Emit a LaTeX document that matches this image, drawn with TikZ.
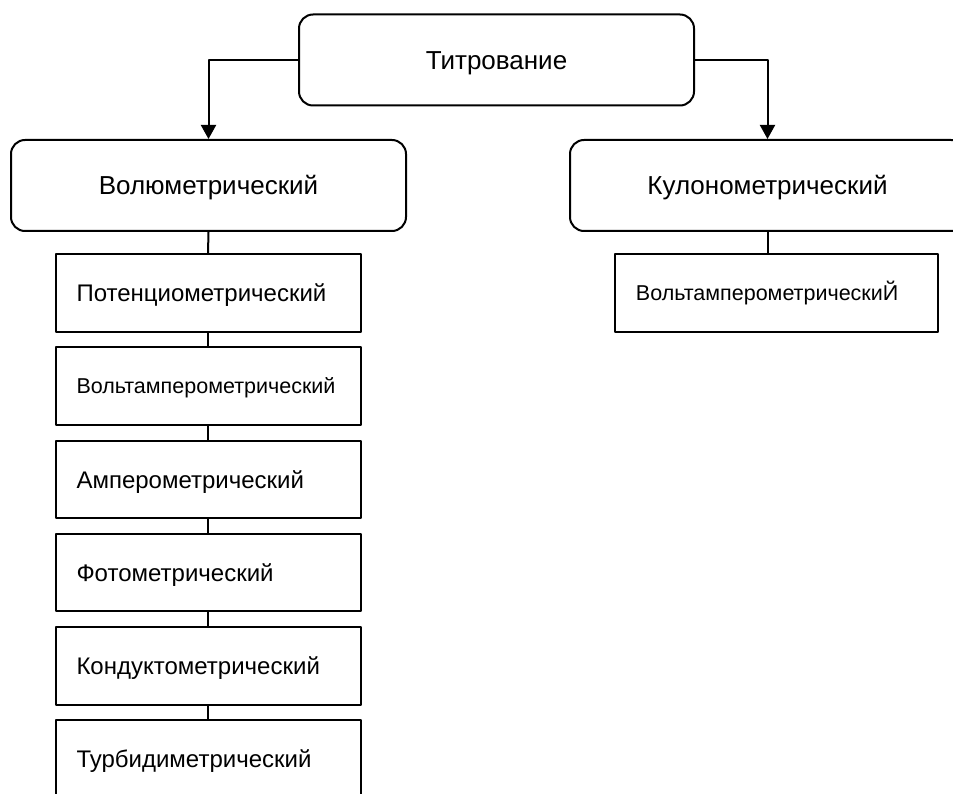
\documentclass[tikz,border=0pt]{standalone}
\usepackage{fontspec}
\setmainfont{Liberation Sans}
\usetikzlibrary{arrows.meta}

\begin{document}
\begin{tikzpicture}[
  x=1pt, y=-1pt,
  line join=round,
  rim/.style={line width=2pt},
  head/.style={draw, rim, rounded corners=14pt, minimum width=395pt,
    minimum height=91pt, text height=18.7pt, text depth=0pt,
    font=\fontsize{26}{30}\selectfont},
  kind/.style={draw, rim, minimum height=77.5pt, inner xsep=21pt,
    text width=263pt, align=left, text height=17.3pt, text depth=0pt,
    font=\fontsize{24}{28}\selectfont},
  small/.style={text height=15.5pt, font=\fontsize{21.5}{25}\selectfont},
  arr/.style={rim, -{Triangle[width=15pt,length=14pt]}},
]
\useasboundingbox (0,0) rectangle (953,794);
\clip (0,0) rectangle (953,794);

% ── the root and its two branches ─────────────────────────────────────────
\node[head] (titr) at (496.5,60) {Титрование};
\node[head] (vol) at (208.5,185.5) {Волюметрический};
\node[head] (kul) at (767.5,185.5) {Кулонометрический};
\draw[arr] (titr.west) -| (vol.north);
\draw[arr] (titr.east) -| (kul.north);

% ── the volumetric methods, one under another ─────────────────────────────
\foreach \txt/\sz [count=\i from 0] in {Потенциометрический/,
    Вольтамперометрический/small, Амперометрический/, Фотометрический/,
    Кондуктометрический/, Турбидиметрический/} {
  \node[kind, \sz] (m\i) at (208,293+93.2*\i) {\txt};
}
\draw[rim] (vol.south) -- (m0.north);
\foreach \i [count=\j] in {0,...,4} { \draw[rim] (m\i.south) -- (m\j.north); }

% ── the coulometric one ───────────────────────────────────────────────────
\node[kind, small, text width=280.7pt] (kvolt) at (776.3,293) {ВольтамперометрическиЙ};
\draw[rim] (kul.south) -- (kul.south |- kvolt.north);

\end{tikzpicture}
\end{document}
